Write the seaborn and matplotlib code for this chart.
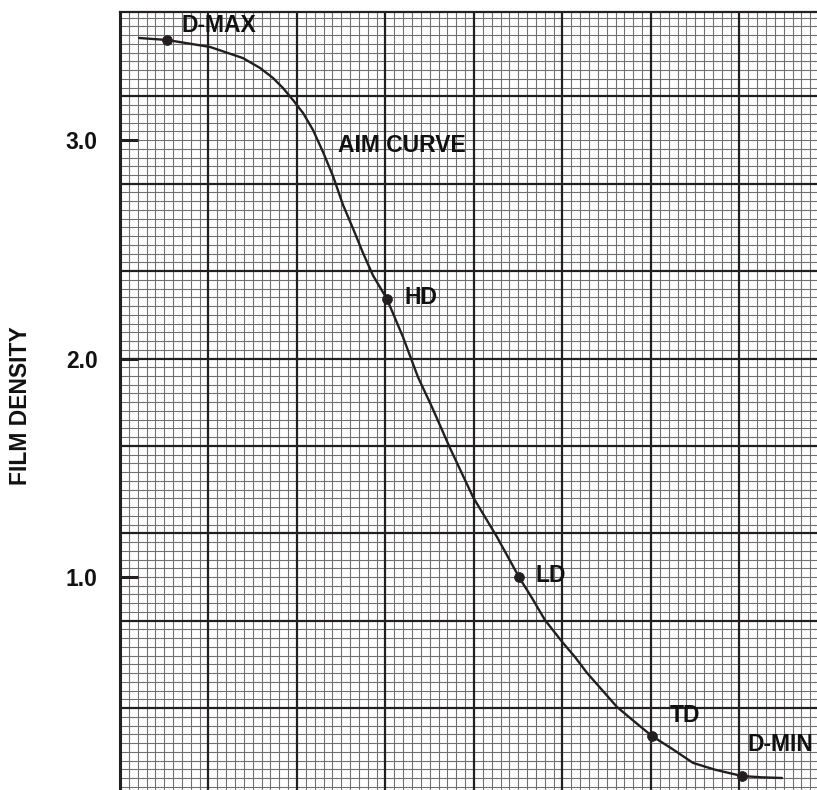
import numpy as np
import pandas as pd
import matplotlib
matplotlib.use("Agg")
import matplotlib.pyplot as plt
import seaborn as sns

# ---- data ----
curve_x = [0.215, 0.531, 1.017, 1.390, 1.582, 1.729, 1.842, 1.955, 2.068, 2.181,
           2.294, 2.407, 2.520, 2.633, 2.746, 2.859, 3.017, 3.198, 3.367, 3.525,
           3.729, 3.989, 4.260, 4.508, 4.655, 4.802, 5.006, 5.141, 5.277, 5.616,
           5.819, 6.011, 6.237, 6.475, 6.723, 7.028, 7.254, 7.480]
curve_y = [3.467, 3.458, 3.426, 3.375, 3.330, 3.284, 3.238, 3.183, 3.124, 3.046,
           2.945, 2.835, 2.703, 2.595, 2.483, 2.380, 2.272, 2.098, 1.915, 1.778,
           1.590, 1.366, 1.183, 1.000, 0.904, 0.803, 0.698, 0.634, 0.561, 0.405,
           0.336, 0.272, 0.214, 0.149, 0.118, 0.089, 0.083, 0.080]

point_names = ["D-MAX", "HD", "LD", "TD", "D-MIN"]
point_x = [0.531, 3.017, 4.508, 6.011, 7.028]
point_y = [3.458, 2.272, 1.000, 0.272, 0.089]

label_x = [0.70, 3.22, 4.69, 6.215, 7.096]
label_y = [3.522, 2.277, 1.009, 0.368, 0.231]

curve_title = "AIM CURVE"
curve_title_xy = (2.463, 2.977)

ytick_values = [1.0, 2.0, 3.0]
ytick_labels = ["1.0", "2.0", "3.0"]
y_label = "FILM DENSITY"

# ---- style ----
sns.set_theme(style="white")
plt.rcParams["font.family"] = ["Liberation Sans", "DejaVu Sans"]
ink = "#231f20"

fig = plt.figure(figsize=(8.17, 7.90), dpi=100)
ax = fig.add_axes([120 / 817, 0.0, 697 / 817, 778 / 790])
xmin, xmax = 0.0, 7.876
ymin, ymax = 0.025, 3.586
ax.set_xlim(xmin, xmax)
ax.set_ylim(ymin, ymax)

# graph paper grid
for xv in np.arange(0.1, xmax, 0.1):
    if abs(xv - round(xv)) < 1e-6:
        continue
    ax.axvline(xv, color="#707070", lw=0.8, zorder=0)
for yv in np.arange(0.04, ymax, 0.04):
    if abs(yv / 0.4 - round(yv / 0.4)) < 1e-6:
        continue
    ax.axhline(yv, color="#707070", lw=0.8, zorder=0)
for xv in np.arange(1, xmax, 1.0):
    ax.axvline(xv, color=ink, lw=1.6, zorder=1)
for yv in np.arange(0.4, ymax, 0.4):
    ax.axhline(yv, color=ink, lw=1.6, zorder=1)

df_curve = pd.DataFrame({"x": curve_x, "y": curve_y})
sns.lineplot(data=df_curve, x="x", y="y", ax=ax, color=ink, lw=1.7,
             sort=False, zorder=3)
df_pts = pd.DataFrame({"x": point_x, "y": point_y, "name": point_names})
sns.scatterplot(data=df_pts, x="x", y="y", ax=ax, color=ink, s=50,
                edgecolor=ink, zorder=4)

txt_kw = dict(fontsize=16.5, fontweight="bold", color="#111111", ha="left",
              va="center", zorder=5)
for name, lx, ly in zip(point_names, label_x, label_y):
    ax.text(lx, ly, name, **txt_kw)
ax.text(curve_title_xy[0], curve_title_xy[1], curve_title, **txt_kw)

ax.set_xticks([])
ax.set_yticks(ytick_values)
ax.set_yticklabels(ytick_labels, fontsize=16.5, fontweight="bold", color="#111111")
ax.tick_params(axis="y", direction="in", length=13, width=2.2, color=ink,
               pad=16, left=True)
ax.set_xlabel("")
ax.set_ylabel(y_label, fontsize=16.5, fontweight="bold", color="#111111")
ax.yaxis.set_label_coords(-0.1263, 0.4936)

for side in ["right", "bottom"]:
    ax.spines[side].set_visible(False)
ax.spines["left"].set_color(ink)
ax.spines["left"].set_linewidth(2.2)
ax.spines["top"].set_color(ink)
ax.spines["top"].set_linewidth(1.6)

fig.savefig("out.png", dpi=100, facecolor="white")
